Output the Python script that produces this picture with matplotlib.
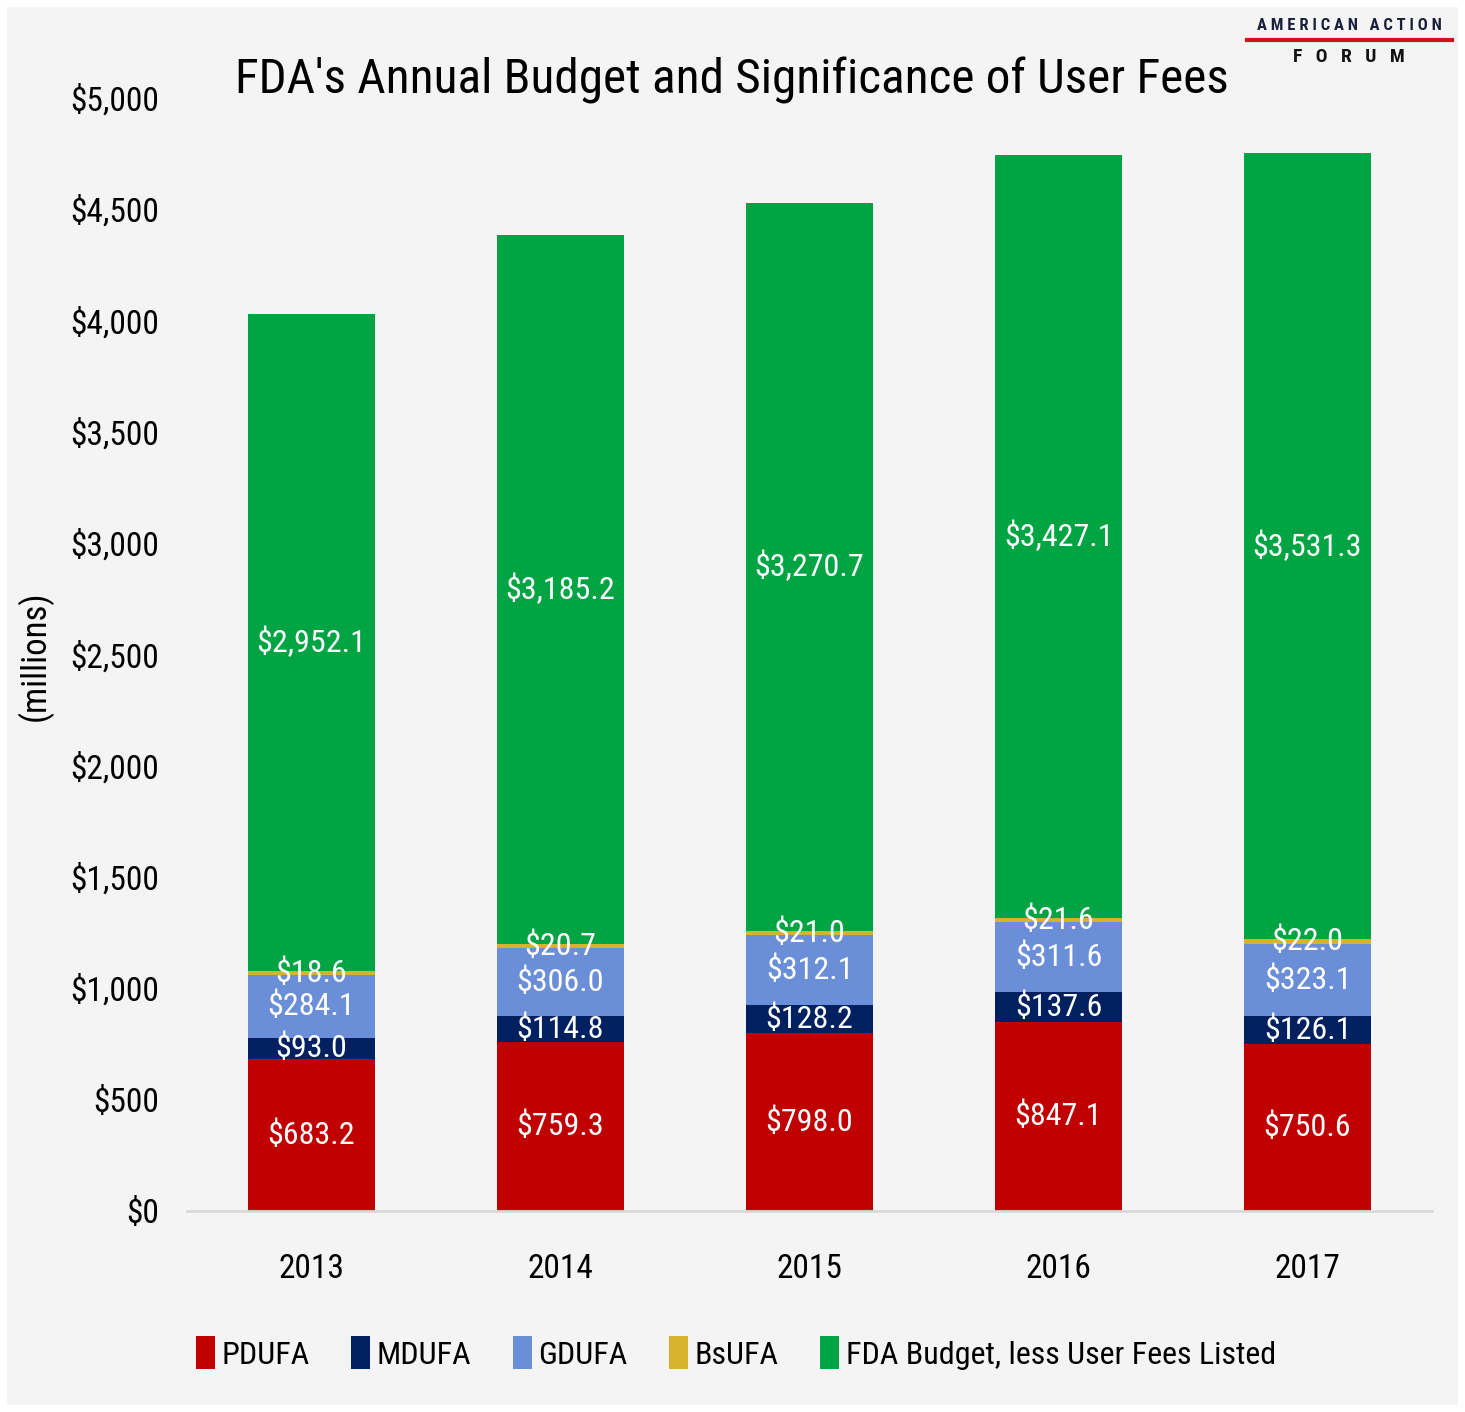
import matplotlib
matplotlib.use('Agg')
import matplotlib.pyplot as plt
from matplotlib.patches import Patch, Rectangle
from matplotlib.lines import Line2D

plt.rcParams['font.family'] = ['Roboto Condensed', 'Liberation Sans Narrow', 'DejaVu Sans']
plt.rcParams['font.stretch'] = 'condensed'

years = ['2013', '2014', '2015', '2016', '2017']
series = ['PDUFA', 'MDUFA', 'GDUFA', 'BsUFA', 'FDA Budget, less User Fees Listed']
pdufa = [683.2, 759.3, 798.0, 847.1, 750.6]
mdufa = [93.0, 114.8, 128.2, 137.6, 126.1]
gdufa = [284.1, 306.0, 312.1, 311.6, 323.1]
bsufa = [18.6, 20.7, 21.0, 21.6, 22.0]
fda_rest = [2952.1, 3185.2, 3270.7, 3427.1, 3531.3]
yticks = [0, 500, 1000, 1500, 2000, 2500, 3000, 3500, 4000, 4500, 5000]

colors = ['#C00000', '#002060', '#6A8ED8', '#D8B22C', '#00A443']
bg = '#F4F4F4'

fig = plt.figure(figsize=(14.65, 14.12), dpi=100, facecolor='white')
fig.patches.append(Rectangle((7 / 1465, 7 / 1412), 1451 / 1465, 1398 / 1412,
                             transform=fig.transFigure, facecolor=bg, edgecolor='none', zorder=-10))

ax = fig.add_axes([187 / 1465, 201 / 1412, 1245 / 1465, 1113 / 1412])
ax.set_facecolor('none')

x = list(range(len(years)))
bottom = [0.0] * len(years)
for vals, col in zip([pdufa, mdufa, gdufa, bsufa, fda_rest], colors):
    ax.bar(x, vals, width=0.51, bottom=bottom, color=col, edgecolor='none', zorder=2)
    for i, v in enumerate(vals):
        ax.text(x[i], bottom[i] + v / 2, f'${v:,.1f}', ha='center', va='center',
                color='white', fontsize=23, zorder=3)
    bottom = [b + v for b, v in zip(bottom, vals)]

ax.set_xlim(-0.5, 4.5)
ax.set_ylim(0, 5000)
ax.set_xticks(x)
ax.set_xticklabels(years, fontsize=24)
ax.set_yticks(yticks)
ax.set_yticklabels([f'${t:,}' for t in yticks], fontsize=24)
ax.tick_params(length=0)
ax.tick_params(axis='y', pad=20)
ax.tick_params(axis='x', pad=30)
for s in ['top', 'right', 'left']:
    ax.spines[s].set_visible(False)
ax.spines['bottom'].set_color('#D9D9D9')
ax.spines['bottom'].set_linewidth(2)

fig.text(35 / 1465, 1 - 656 / 1412, '(millions)', rotation=90, ha='center', va='center', fontsize=25)
fig.text(732 / 1465, 1 - 80 / 1412, "FDA's Annual Budget and Significance of User Fees",
         ha='center', va='center', fontsize=35.5)

# logo
fig.text(1349 / 1465, 1 - 25 / 1412, 'A M E R I C A N   A C T I O N', ha='center', va='center',
         fontsize=12, fontweight='bold', color='#1B1F3B')
fig.lines.append(Line2D([1247 / 1465, 1452 / 1465], [1 - 40 / 1412, 1 - 40 / 1412],
                        transform=fig.transFigure, color='#D0141E', linewidth=3))
fig.text(1349 / 1465, 1 - 57 / 1412, 'F   O   R   U   M', ha='center', va='center',
         fontsize=14, fontweight='bold', color='#111111')

handles = [Patch(facecolor=c, edgecolor='none') for c in colors]
fig.legend(handles, series, loc='center', bbox_to_anchor=(736 / 1465, 1 - 1353 / 1412), ncol=5,
           frameon=False, fontsize=23, handlelength=0.6, handleheight=1.2, handletextpad=0.2,
           columnspacing=1.3)

fig.savefig('out.png', dpi=100, facecolor='white')
